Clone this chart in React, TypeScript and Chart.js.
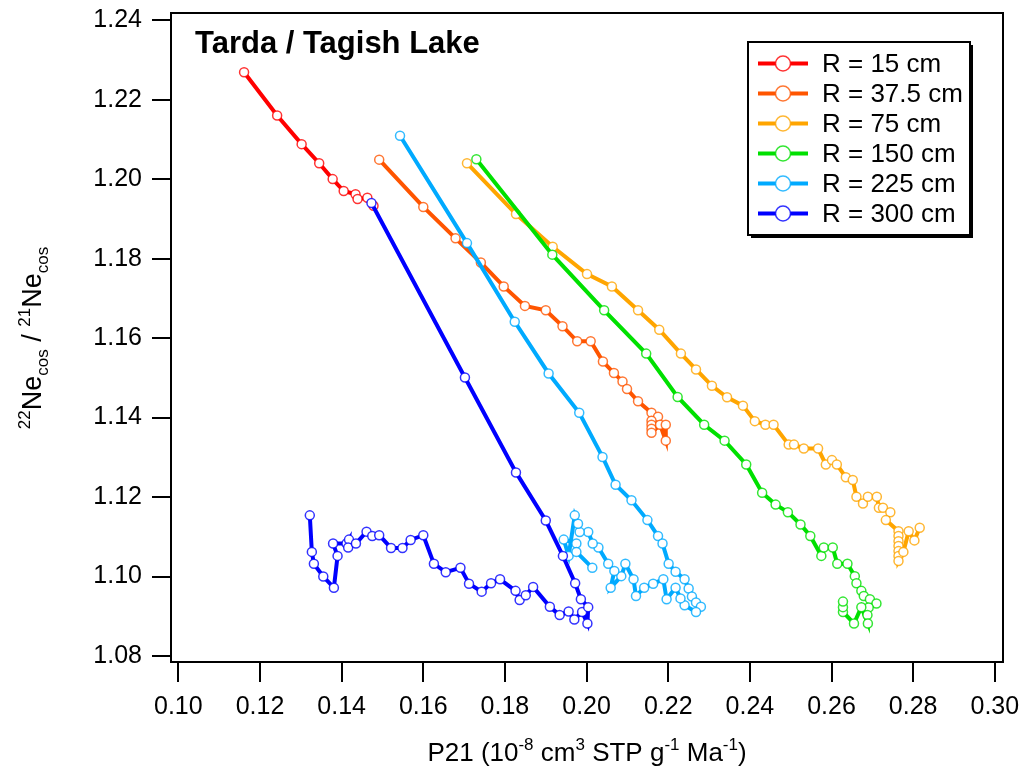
import React, { useEffect, useRef } from "react";
import { Chart, registerables } from "chart.js";

Chart.register(...registerables);

const seriesLabels = ["R = 15 cm", "R = 37.5 cm", "R = 75 cm", "R = 150 cm", "R = 225 cm", "R = 300 cm"];
const seriesColors = ["#ff0000", "#ff5500", "#ffa500", "#00e000", "#00aaff", "#0000ff"];

const xTicks = [0.1, 0.12, 0.14, 0.16, 0.18, 0.2, 0.22, 0.24, 0.26, 0.28, 0.3];
const yTicks = [1.08, 1.1, 1.12, 1.14, 1.16, 1.18, 1.2, 1.22, 1.24];

const r15: [number, number][] = [
  [0.1161, 1.2269], [0.1242, 1.216], [0.1302, 1.2088], [0.1345, 1.204], [0.1378, 1.2], [0.1405, 1.197],
  [0.1434, 1.1962], [0.1439, 1.195], [0.1463, 1.1953], [0.1478, 1.1933],
];

const r37: [number, number][] = [
  [0.1492, 1.2049], [0.16, 1.193], [0.1679, 1.1851], [0.1741, 1.179], [0.1797, 1.173], [0.1849, 1.1681],
  [0.19, 1.167], [0.1941, 1.163], [0.1977, 1.1592], [0.201, 1.1592], [0.204, 1.1541], [0.2067, 1.1512],
  [0.2088, 1.1491], [0.2099, 1.1472], [0.2126, 1.1441], [0.2159, 1.1412], [0.2175, 1.1402], [0.2159, 1.1392],
  [0.2159, 1.1382], [0.2159, 1.1372], [0.2159, 1.1362], [0.218, 1.1382], [0.2194, 1.1342], [0.2194, 1.1382],
];

const r75: [number, number][] = [
  [0.1707, 1.204], [0.1827, 1.1912], [0.1917, 1.183], [0.2001, 1.1761], [0.2062, 1.173], [0.2126, 1.167],
  [0.2178, 1.1621], [0.2231, 1.1561], [0.2268, 1.1521], [0.2307, 1.148], [0.2344, 1.1451], [0.2383, 1.143],
  [0.2412, 1.1391], [0.2438, 1.1382], [0.2458, 1.1382], [0.2495, 1.1332], [0.2508, 1.1332], [0.2532, 1.1322],
  [0.2567, 1.1322], [0.2586, 1.1282], [0.2601, 1.1293], [0.2613, 1.1282], [0.2635, 1.125], [0.2652, 1.1243],
  [0.2661, 1.1201], [0.2677, 1.1184], [0.2689, 1.1201], [0.2711, 1.1201], [0.2716, 1.1173], [0.2726, 1.1173],
  [0.2744, 1.1162], [0.2733, 1.1142], [0.2764, 1.1114], [0.2764, 1.1102], [0.2764, 1.1089], [0.2764, 1.1077],
  [0.2764, 1.1064], [0.2764, 1.1052], [0.2764, 1.1039], [0.2776, 1.1062], [0.2789, 1.1114], [0.2803, 1.1091],
  [0.2816, 1.1123],
];

const r150: [number, number][] = [
  [0.173, 1.205], [0.1916, 1.181], [0.2043, 1.167], [0.2146, 1.1561], [0.2223, 1.1452], [0.2288, 1.1382],
  [0.2338, 1.1342], [0.2391, 1.1282], [0.243, 1.1211], [0.2463, 1.1181], [0.2493, 1.1162], [0.2524, 1.1131],
  [0.2548, 1.1102], [0.2575, 1.1052], [0.2581, 1.1073], [0.2603, 1.1073], [0.2614, 1.1032], [0.2639, 1.1032],
  [0.2657, 1.1001], [0.2661, 1.0983], [0.2673, 1.0964], [0.2679, 1.0951], [0.2694, 1.0943], [0.271, 1.0932],
  [0.2691, 1.0922], [0.2688, 1.0903], [0.2689, 1.0882], [0.2673, 1.0923], [0.2655, 1.0882], [0.2628, 1.0911],
  [0.2628, 1.0923], [0.2628, 1.0937],
];

const r225: [number, number][] = [
  [0.1543, 1.2109], [0.1707, 1.1839], [0.1824, 1.1641], [0.1907, 1.1511], [0.1982, 1.1412], [0.2039, 1.1301],
  [0.2071, 1.1231], [0.211, 1.1192], [0.2149, 1.1142], [0.2175, 1.1102], [0.2186, 1.1083], [0.2201, 1.1032],
  [0.2218, 1.1012], [0.224, 1.0993], [0.225, 1.097], [0.2258, 1.095], [0.2268, 1.0935], [0.228, 1.0924],
  [0.2268, 1.0911], [0.224, 1.0928], [0.223, 1.0945], [0.2218, 1.0972], [0.2196, 1.0943], [0.2188, 1.0993],
  [0.2163, 1.0982], [0.2141, 1.0972], [0.2121, 1.0951], [0.2115, 1.0993], [0.2095, 1.1032], [0.2085, 1.1001],
  [0.2059, 1.0972], [0.2068, 1.1014], [0.2053, 1.1032], [0.2029, 1.1073], [0.2015, 1.1083], [0.2004, 1.1112],
  [0.1983, 1.1112], [0.1979, 1.1133], [0.1971, 1.1154], [0.1956, 1.1052], [0.1944, 1.1093], [0.1975, 1.1083],
  [0.1975, 1.1062], [0.2014, 1.1022],
];

const r300: [number, number][] = [
  [0.1322, 1.1154], [0.1327, 1.1062], [0.1332, 1.1032], [0.1355, 1.1], [0.1381, 1.0972], [0.139, 1.1052],
  [0.1379, 1.1083], [0.1412, 1.1083], [0.1418, 1.1093], [0.1416, 1.1073], [0.1435, 1.1083], [0.1461, 1.1113],
  [0.1475, 1.1102], [0.1492, 1.1104], [0.1521, 1.1072], [0.1549, 1.1072], [0.1569, 1.1092], [0.16, 1.1104],
  [0.1626, 1.1032], [0.1655, 1.1011], [0.1691, 1.1022], [0.1712, 1.0982], [0.1743, 1.0962], [0.1766, 1.0983],
  [0.1788, 1.0993], [0.1826, 1.0964], [0.1836, 1.0941], [0.1851, 1.0953], [0.1869, 1.0974], [0.191, 1.0924],
  [0.1934, 1.0903], [0.1956, 1.0912], [0.197, 1.0892], [0.1989, 1.0911], [0.2002, 1.0882], [0.2004, 1.0923],
  [0.1986, 1.0943], [0.1972, 1.0983], [0.1942, 1.1052], [0.19, 1.1141], [0.1827, 1.1262], [0.1702, 1.1501],
  [0.1473, 1.194],
];

const allSeries = [r15, r37, r75, r150, r225, r300];

const titleText = "Tarda / Tagish Lake";

const FONT = "'Liberation Sans', Arial, sans-serif";

function drawSegments(
  ctx: CanvasRenderingContext2D,
  segs: { t: string; k: "n" | "sup" | "sub" }[],
  cx: number,
  baseline: number,
  size: number,
  small: number
) {
  const fontFor = (k: string) => `${k === "n" ? size : small}px ${FONT}`;
  let total = 0;
  for (const s of segs) {
    ctx.font = fontFor(s.k);
    total += ctx.measureText(s.t).width;
  }
  let x = cx - total / 2;
  ctx.textAlign = "left";
  ctx.textBaseline = "alphabetic";
  for (const s of segs) {
    ctx.font = fontFor(s.k);
    const dy = s.k === "sup" ? -size * 0.42 : s.k === "sub" ? size * 0.25 : 0;
    ctx.fillText(s.t, x, baseline + dy);
    x += ctx.measureText(s.t).width;
  }
}

const decorPlugin = {
  id: "decor",
  afterDraw(chart: any) {
    const ctx: CanvasRenderingContext2D = chart.ctx;
    const a = chart.chartArea;
    ctx.save();
    // frame
    ctx.strokeStyle = "#000";
    ctx.lineWidth = 2;
    ctx.strokeRect(a.left, a.top, a.right - a.left, a.bottom - a.top);

    // title
    ctx.fillStyle = "#000";
    ctx.font = `bold 31px ${FONT}`;
    ctx.textAlign = "left";
    ctx.textBaseline = "alphabetic";
    ctx.fillText(titleText, 195, 53);

    // legend
    const lx = 748, ly = 42, lw = 222, lh = 193;
    ctx.fillStyle = "#000";
    ctx.fillRect(lx + 3, ly + 3, lw, lh);
    ctx.fillStyle = "#fff";
    ctx.fillRect(lx, ly, lw, lh);
    ctx.strokeStyle = "#000";
    ctx.lineWidth = 2;
    ctx.strokeRect(lx, ly, lw, lh);
    chart.data.datasets.forEach((ds: any, i: number) => {
      const cy = 63.5 + i * 30;
      ctx.strokeStyle = ds.borderColor;
      ctx.lineWidth = 4;
      ctx.beginPath();
      ctx.moveTo(758, cy);
      ctx.lineTo(808, cy);
      ctx.stroke();
      ctx.beginPath();
      ctx.arc(783, cy, 7.5, 0, Math.PI * 2);
      ctx.fillStyle = "#fff";
      ctx.fill();
      ctx.lineWidth = 1.5;
      ctx.strokeStyle = ds.pointBorderColor;
      ctx.stroke();
      ctx.fillStyle = "#000";
      ctx.font = `26px ${FONT}`;
      ctx.textAlign = "left";
      ctx.textBaseline = "middle";
      ctx.fillText(ds.label, 822, cy + 1);
    });

    // x title
    ctx.fillStyle = "#000";
    drawSegments(
      ctx,
      [
        { t: "P21 (10", k: "n" },
        { t: "-8", k: "sup" },
        { t: " cm", k: "n" },
        { t: "3", k: "sup" },
        { t: " STP g", k: "n" },
        { t: "-1", k: "sup" },
        { t: " Ma", k: "n" },
        { t: "-1", k: "sup" },
        { t: ")", k: "n" },
      ],
      (a.left + a.right) / 2,
      761,
      26,
      17
    );

    // y title
    ctx.save();
    ctx.translate(41, 338);
    ctx.rotate(-Math.PI / 2);
    drawSegments(
      ctx,
      [
        { t: "22", k: "sup" },
        { t: "Ne", k: "n" },
        { t: "cos", k: "sub" },
        { t: " / ", k: "n" },
        { t: "21", k: "sup" },
        { t: "Ne", k: "n" },
        { t: "cos", k: "sub" },
      ],
      0,
      0,
      27,
      17
    );
    ctx.restore();
    ctx.restore();
  },
};

export default function App() {
  const ref = useRef<HTMLCanvasElement | null>(null);
  useEffect(() => {
    if (!ref.current) return;
    const n = allSeries.length;
    const chart = new Chart(ref.current, {
      type: "scatter",
      data: {
        datasets: allSeries.map((s, i) => ({
          label: seriesLabels[i],
          data: s.map(([x, y]) => ({ x, y })),
          showLine: true,
          borderColor: seriesColors[i],
          borderWidth: 4,
          pointRadius: 4.5,
          pointBorderWidth: 1.5,
          pointBackgroundColor: "#ffffff",
          pointBorderColor: seriesColors[i] + "cc",
          order: n - i,
          tension: 0,
        })),
      },
      options: {
        responsive: false,
        animation: false,
        events: [],
        layout: { autoPadding: false, padding: { top: 13, right: 23, left: 0, bottom: 0 } },
        plugins: { legend: { display: false }, tooltip: { enabled: false }, title: { display: false } },
        scales: {
          x: {
            type: "linear",
            min: 0.0982,
            max: 0.302,
            afterBuildTicks: (scale: any) => {
              scale.ticks = xTicks.map((v) => ({ value: v }));
            },
            afterFit: (scale: any) => {
              scale.height = 110;
              scale.paddingLeft = 0;
              scale.paddingRight = 0;
            },
            border: { display: true, color: "#000", width: 2 },
            grid: { drawOnChartArea: false, drawTicks: true, tickLength: 20, color: "#000", lineWidth: 2 },
            ticks: {
              color: "#000",
              font: { family: FONT, size: 25 },
              padding: 10,
              maxRotation: 0,
              callback: (v: any) => Number(v).toFixed(2),
            },
          },
          y: {
            type: "linear",
            min: 1.0785,
            max: 1.2418,
            afterBuildTicks: (scale: any) => {
              scale.ticks = yTicks.map((v) => ({ value: v }));
            },
            afterFit: (scale: any) => {
              scale.width = 171;
              scale.paddingTop = 0;
              scale.paddingBottom = 0;
            },
            border: { display: true, color: "#000", width: 2 },
            grid: { drawOnChartArea: false, drawTicks: true, tickLength: 19, color: "#000", lineWidth: 2 },
            ticks: {
              color: "#000",
              font: { family: FONT, size: 25 },
              padding: 10,
              callback: (v: any) => Number(v).toFixed(2),
            },
          },
        },
      },
      plugins: [decorPlugin],
    });
    return () => chart.destroy();
  }, []);
  return (
    <canvas
      ref={ref}
      width={1026}
      height={772}
      style={{ position: "absolute", left: 0, top: 0, display: "block" }}
    />
  );
}
